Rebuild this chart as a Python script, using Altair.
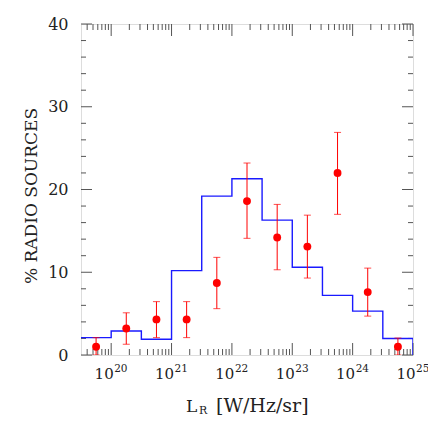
import altair as alt
import pandas as pd

# ---- data ----
bin_edges_log = [19.5, 20.0, 20.5, 21.0, 21.5, 22.0, 22.5, 23.0, 23.5, 24.0, 24.5, 25.0]
hist_pct = [2.1, 2.9, 1.9, 10.2, 19.2, 21.3, 16.3, 10.6, 7.2, 5.3, 2.0]

point_logL = [19.75, 20.25, 20.75, 21.25, 21.75, 22.25, 22.75, 23.25, 23.75, 24.25, 24.75]
point_pct = [1.0, 3.2, 4.3, 4.3, 8.7, 18.6, 14.2, 13.1, 22.0, 7.6, 1.0]
err_hi = [2.1, 5.1, 6.45, 6.45, 11.8, 23.2, 18.2, 16.9, 26.9, 10.5, 2.05]
err_lo = [0.0, 1.3, 2.1, 2.1, 5.6, 14.1, 10.3, 9.3, 17.0, 4.7, 0.0]

x_major_exp = [20, 21, 22, 23, 24, 25]
x_tick_exp_labels = ["20", "21", "22", "23", "24", "25"]
y_major = [0, 10, 20, 30, 40]
y_minor = [2, 4, 6, 8, 12, 14, 16, 18, 22, 24, 26, 28, 32, 34, 36, 38]

W, H = 332, 331
FONT = "DejaVu Serif"
TXT = "#222222"
AX = "#555555"
BLUE = "#1a1aff"
RED = "#ff0000"

xs = alt.Scale(type="log", domain=[10 ** 19.5, 1e25], nice=False, zero=False)
ys = alt.Scale(domain=[0, 40], nice=False, zero=False)
yax = alt.Axis(values=y_major, ticks=False, domain=False, grid=False, title=None,
               labelFont=FONT, labelFontSize=16, labelColor=TXT, labelPadding=13)

# histogram (step) data
hx = [10 ** e for e in bin_edges_log]
hy = hist_pct + [0.0]
hist_df = pd.DataFrame({"L": hx, "pct": hy, "order": list(range(len(hx)))})

pts_df = pd.DataFrame({
    "L": [10 ** v for v in point_logL],
    "pct": point_pct,
    "hi": err_hi,
    "lo": err_lo,
})

X = lambda f: alt.X(f, scale=xs, axis=None)
Y = lambda f: alt.Y(f, scale=ys, axis=yax)

hist = alt.Chart(hist_df).mark_line(
    interpolate="step-after", color=BLUE, strokeWidth=1.4, clip=True
).encode(x=X("L:Q"), y=Y("pct:Q"), order="order:Q")

bars = alt.Chart(pts_df).mark_rule(color=RED, strokeWidth=1, clip=True).encode(
    x=X("L:Q"), y=Y("lo:Q"), y2="hi:Q")
cap_hi = alt.Chart(pts_df).mark_tick(color=RED, orient="horizontal", size=7,
                                      thickness=1, clip=True).encode(x=X("L:Q"), y=Y("hi:Q"))
cap_lo = alt.Chart(pts_df).mark_tick(color=RED, orient="horizontal", size=7,
                                      thickness=1, clip=True).encode(x=X("L:Q"), y=Y("lo:Q"))
dots = alt.Chart(pts_df).mark_circle(color=RED, opacity=1, size=62, clip=True).encode(
    x=X("L:Q"), y=Y("pct:Q"))

# tick marks drawn inward
x_major_df = pd.DataFrame({"v": [10.0 ** e for e in x_major_exp]})
x_minor_df = pd.DataFrame({"v": [k * 10.0 ** n for n in range(19, 25) for k in range(2, 10)
                                 if 10 ** 19.5 < k * 10.0 ** n < 1e25]})
y_major_df = pd.DataFrame({"v": y_major})
y_minor_df = pd.DataFrame({"v": y_minor})

def xticks(df, length):
    b = alt.Chart(df).mark_rule(color=AX, strokeWidth=1).encode(
        x=X("v:Q"), y=alt.value(H), y2=alt.value(H - length))
    t = alt.Chart(df).mark_rule(color=AX, strokeWidth=1).encode(
        x=X("v:Q"), y=alt.value(0), y2=alt.value(length))
    return [b, t]

def yticks(df, length):
    l = alt.Chart(df).mark_rule(color=AX, strokeWidth=1).encode(
        y=Y("v:Q"), x=alt.value(0), x2=alt.value(length))
    r = alt.Chart(df).mark_rule(color=AX, strokeWidth=1).encode(
        y=Y("v:Q"), x=alt.value(W), x2=alt.value(W - length))
    return [l, r]

# x tick labels: "10" with superscript exponent
xlab_df = pd.DataFrame({"v": [10.0 ** e for e in x_major_exp], "base": ["10"] * 6,
                        "exp": x_tick_exp_labels})
xlab_base = alt.Chart(xlab_df).mark_text(
    align="right", baseline="alphabetic", dx=2.5, font=FONT, fontSize=15, color=TXT
).encode(x=X("v:Q"), y=alt.value(H + 24), text="base:N")
xlab_exp = alt.Chart(xlab_df).mark_text(
    align="left", baseline="alphabetic", dx=3, font=FONT, fontSize=10.5, color=TXT
).encode(x=X("v:Q"), y=alt.value(H + 17), text="exp:N")

# axis titles
ttl_df = pd.DataFrame({"t": ["% RADIO SOURCES"]})
ytitle = alt.Chart(ttl_df).mark_text(
    angle=270, align="center", baseline="middle", font=FONT, fontSize=17, color=TXT
).encode(x=alt.value(-49), y=alt.value(172), text="t:N")

xt_df = pd.DataFrame({"a": ["L"], "b": ["R"], "c": ["[W/Hz/sr]"]})
xt_L = alt.Chart(xt_df).mark_text(align="left", baseline="alphabetic", font=FONT,
                                  fontSize=17, color=TXT).encode(
    x=alt.value(105), y=alt.value(H + 57), text="a:N")
xt_R = alt.Chart(xt_df).mark_text(align="left", baseline="alphabetic", font=FONT,
                                  fontSize=11, color=TXT).encode(
    x=alt.value(118), y=alt.value(H + 59), text="b:N")
xt_c = alt.Chart(xt_df).mark_text(align="left", baseline="alphabetic", font=FONT,
                                  fontSize=19, color=TXT).encode(
    x=alt.value(135), y=alt.value(H + 57), text="c:N")

layers = (xticks(x_major_df, 12) + xticks(x_minor_df, 6) +
          yticks(y_major_df, 11) + yticks(y_minor_df, 5) +
          [hist, bars, cap_hi, cap_lo, dots, xlab_base, xlab_exp, ytitle, xt_L, xt_R, xt_c])

chart = alt.layer(*layers).properties(
    width=W, height=H,
    autosize=alt.AutoSizeParams(type="none"),
    padding={"left": 73, "top": 16, "right": 15, "bottom": 64},
).configure_view(stroke=AX, strokeWidth=1).configure(background="white")

chart.save("out.html", embed_options={"renderer": "svg", "actions": False})
